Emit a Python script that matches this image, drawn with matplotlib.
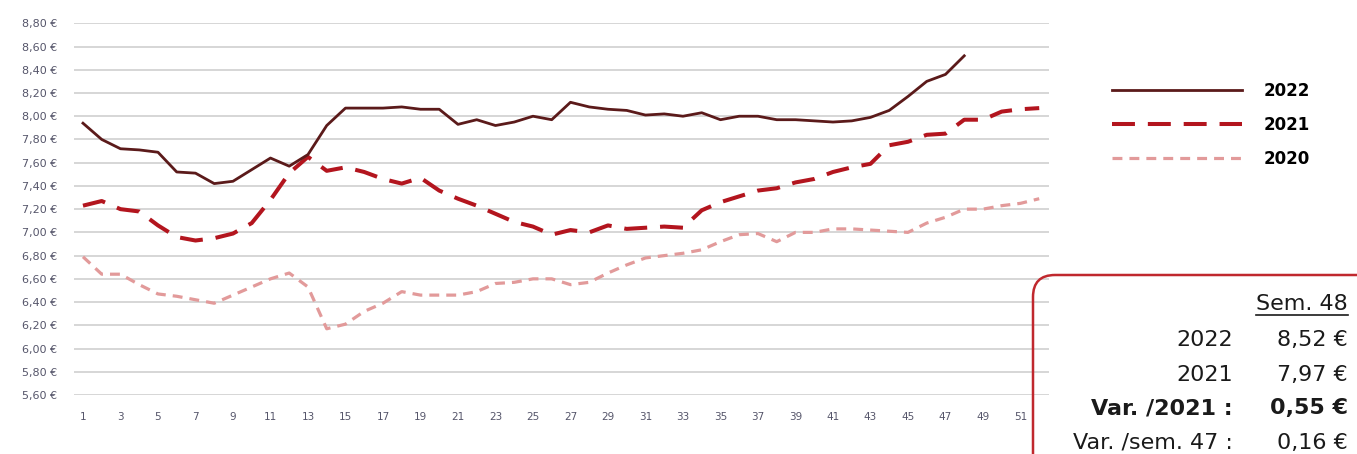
import matplotlib.pyplot as plt
from matplotlib.patches import FancyBboxPatch
from matplotlib.lines import Line2D

W, H = 1357, 454

weeks_2022 = list(range(1, 49))
weeks_full = list(range(1, 53))

prix_2022 = [7.94, 7.80, 7.72, 7.71, 7.69, 7.52, 7.51, 7.42, 7.44, 7.54,
             7.64, 7.57, 7.67, 7.92, 8.07, 8.07, 8.07, 8.08, 8.06, 8.06,
             7.93, 7.97, 7.92, 7.95, 8.00, 7.97, 8.12, 8.08, 8.06, 8.05,
             8.01, 8.02, 8.00, 8.03, 7.97, 8.00, 8.00, 7.97, 7.97, 7.96,
             7.95, 7.96, 7.99, 8.05, 8.17, 8.30, 8.36, 8.52]
prix_2021 = [7.23, 7.27, 7.20, 7.18, 7.06, 6.96, 6.93, 6.95, 6.99, 7.08,
             7.28, 7.51, 7.65, 7.53, 7.56, 7.52, 7.46, 7.42, 7.47, 7.36,
             7.29, 7.23, 7.16, 7.09, 7.05, 6.98, 7.02, 7.00, 7.06, 7.03,
             7.04, 7.05, 7.04, 7.19, 7.26, 7.31, 7.36, 7.38, 7.43, 7.46,
             7.52, 7.56, 7.59, 7.75, 7.78, 7.84, 7.85, 7.97, 7.97, 8.04,
             8.06, 8.07]
prix_2020 = [6.79, 6.64, 6.64, 6.55, 6.47, 6.45, 6.42, 6.39, 6.46, 6.53,
             6.60, 6.65, 6.53, 6.17, 6.21, 6.32, 6.39, 6.49, 6.46, 6.46,
             6.46, 6.49, 6.56, 6.57, 6.60, 6.60, 6.55, 6.57, 6.65, 6.72,
             6.78, 6.80, 6.82, 6.85, 6.92, 6.98, 6.99, 6.92, 7.00, 7.00,
             7.03, 7.03, 7.02, 7.01, 7.00, 7.08, 7.13, 7.20, 7.20, 7.23,
             7.25, 7.29]

y_ticks = [5.60 + 0.20 * i for i in range(17)]
x_ticks = list(range(1, 52, 2))

box_labels = ["2022", "2021", "Var. /2021 :", "Var. /sem. 47 :"]
box_values = ["8,52 €", "7,97 €", "0,55 €", "0,16 €"]
box_bold = [False, False, True, False]

fig = plt.figure(figsize=(W / 100, H / 100), dpi=100)
ax = fig.add_axes([73.6 / W, (H - 395) / H, 975 / W, 371.7 / H])

ax.plot(weeks_full, prix_2020, color="#e29a9a", lw=2.3,
        dashes=(3.1, 2.2), label="2020", zorder=3)
ax.plot(weeks_full, prix_2021, color="#b3151e", lw=2.9,
        dashes=(5.7, 3.2), label="2021", zorder=4)
ax.plot(weeks_2022, prix_2022, color="#5b1a1a", lw=2.0, label="2022", zorder=5)

ax.set_xlim(0.5, 52.5)
ax.set_ylim(5.6, 8.8)
ax.set_yticks(y_ticks)
ax.set_yticklabels([f"{v:.2f}".replace(".", ",") + " €" for v in y_ticks])
ax.set_xticks(x_ticks)
ax.set_xticklabels([str(x) for x in x_ticks])
ax.tick_params(length=0, labelsize=8, labelcolor="#55556a")
ax.tick_params(axis="y", pad=12)
ax.tick_params(axis="x", pad=12, labelsize=7.5)
ax.grid(axis="y", color="#d3d3d3", lw=1.3)
ax.set_axisbelow(True)
for s in ax.spines.values():
    s.set_visible(False)

# legend, order 2022 / 2021 / 2020
h, l = ax.get_legend_handles_labels()
order = [2, 1, 0]
fig.legend([h[i] for i in order], [l[i] for i in order],
           loc="upper left", bbox_to_anchor=(1112 / W, 1 - 82 / H),
           frameon=False, borderpad=0, borderaxespad=0,
           handlelength=7.8, handletextpad=1.3, labelspacing=0.95,
           prop={"weight": "bold", "size": 12})

# summary box
box = FancyBboxPatch((10.33, -1.0), 4.0, 1.0 + (H - 275) / 100,
                     boxstyle="round,pad=0,rounding_size=0.22",
                     transform=fig.dpi_scale_trans, facecolor="none",
                     edgecolor="#c0282e", lw=1.8)
fig.add_artist(box)

t = fig.text(1348 / W, 1 - 304 / H, "Sem. 48", ha="right", va="center",
             fontsize=16, color="#1a1a1a")
ys = [340, 375, 408, 443]
for lab, val, b, y in zip(box_labels, box_values, box_bold, ys):
    fw = "bold" if b else "normal"
    fig.text(1233 / W, 1 - y / H, lab, ha="right", va="center",
             fontsize=16, color="#1a1a1a", weight=fw)
    fig.text(1348 / W, 1 - y / H, val, ha="right", va="center",
             fontsize=16, color="#1a1a1a", weight=fw)

fig.canvas.draw()
bb = t.get_window_extent()
fig.add_artist(Line2D([bb.x0 / W, bb.x1 / W], [(bb.y0 - 1) / H, (bb.y0 - 1) / H],
                      color="#1a1a1a", lw=1.2))

fig.savefig("out.png", dpi=100)
